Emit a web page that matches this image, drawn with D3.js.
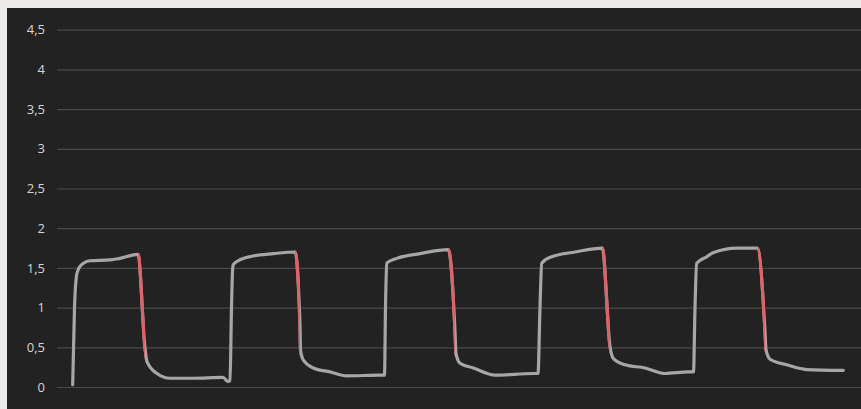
<!DOCTYPE html>
<html>
<head>
<meta charset="utf-8">
<script src="https://cdn.jsdelivr.net/npm/d3@7"></script>
<style>
  html, body { margin: 0; padding: 0; background: #ecebe9; }
  svg { display: block; }
  .axis text { font-family: 'Open Sans', 'Noto Sans', sans-serif; font-size: 13px; fill: #d6d6d6; }
  .axis line { stroke: #4a4a4a; stroke-width: 1.2; }
</style>
</head>
<body>
<div id="chart"></div>
<script>
const times = [
  15.7, 17.5, 19.5, 21, 23, 33, 53, 63, 81,
  88, 90, 100, 113, 136, 166, 171,
  173, 174.5, 175.5, 176.3, 181.3, 196.3, 216.3, 238,
  243, 243.5, 246.3, 256.3, 273, 289.7, 323, 326,
  327.5, 328.5, 329.7, 339.7, 363, 391.3,
  398, 399, 403, 416.3, 438, 476.3, 479.5,
  481, 483, 484.7, 494.7, 518, 545.3,
  553, 556.3, 568, 588, 608, 631.3, 635,
  636.5, 638, 639.7, 649.7, 656, 679.7, 700.3,
  708, 709, 713, 729.7, 749.7, 786.3
];
const values = [
  0.03, 1.0, 1.4, 1.47, 1.52, 1.59, 1.6, 1.62, 1.67,
  0.49, 0.32, 0.17, 0.11, 0.11, 0.12, 0.07,
  0.08, 1.0, 1.45, 1.54, 1.59, 1.65, 1.68, 1.70,
  0.78, 0.47, 0.34, 0.24, 0.19, 0.14, 0.15, 0.15,
  0.15, 1.0, 1.56, 1.62, 1.68, 1.73,
  0.70, 0.42, 0.30, 0.24, 0.15, 0.17, 0.17,
  0.17, 1.0, 1.56, 1.64, 1.70, 1.75,
  0.51, 0.36, 0.28, 0.24, 0.17, 0.19, 0.19,
  0.19, 1.0, 1.56, 1.64, 1.69, 1.75, 1.75,
  0.70, 0.47, 0.35, 0.28, 0.22, 0.21
];
// abfall-abschnitte, die rot markiert sind (zeit von..bis)
const redSpans = [[81, 88], [238, 243], [391.3, 398], [545.3, 553], [700.3, 708]];
const yTicks = [0, 0.5, 1, 1.5, 2, 2.5, 3, 3.5, 4, 4.5];

const W = 861, H = 409;
const m = { top: 29.7, right: 0, bottom: 22, left: 57 };

const svg = d3.select('#chart').append('svg').attr('width', W).attr('height', H);
// dunkles panel
svg.append('rect').attr('x', 7).attr('y', 8).attr('width', W - 7).attr('height', H - 8).attr('fill', '#222222');

const x = d3.scaleLinear().domain([0, 804]).range([m.left, W - m.right]);
const y = d3.scaleLinear().domain([0, 4.5]).range([H - m.bottom, m.top]);

const loc = d3.formatLocale({ decimal: ',', thousands: '.', grouping: [3], currency: ['', ' €'] });
const fmt = loc.format('.2~f');

svg.append('g').attr('class', 'axis')
  .attr('transform', `translate(${m.left},0)`)
  .call(d3.axisLeft(y).tickValues(yTicks).tickFormat(fmt).tickSize(-(W - m.left - m.right)).tickPadding(12))
  .call(g => g.select('.domain').remove());

const pts = times.map((t, i) => ({ t, v: values[i] }));
const line = d3.line().x(d => x(d.t)).y(d => y(d.v)).curve(d3.curveMonotoneX);

// clip für die roten abschnitte — gleiche linie, nur ausgeschnitten
const clip = svg.append('defs').append('clipPath').attr('id', 'red-clip');
redSpans.forEach(([a, b]) => {
  clip.append('rect').attr('x', x(a)).attr('y', 0).attr('width', x(b) - x(a)).attr('height', H);
});

svg.append('path').datum(pts)
  .attr('d', line).attr('fill', 'none')
  .attr('stroke', '#a6a6a6').attr('stroke-width', 3.2)
  .attr('stroke-linejoin', 'round').attr('stroke-linecap', 'round');

svg.append('path').datum(pts)
  .attr('d', line).attr('fill', 'none')
  .attr('clip-path', 'url(#red-clip)')
  .attr('stroke', '#dc6468').attr('stroke-width', 3.2)
  .attr('stroke-linejoin', 'round');
</script>
</body>
</html>
